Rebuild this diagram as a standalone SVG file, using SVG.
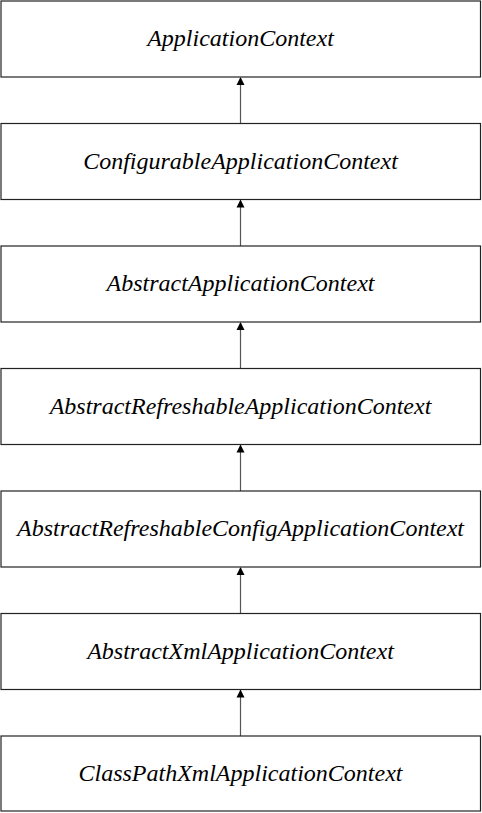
<svg xmlns="http://www.w3.org/2000/svg" width="482" height="813" viewBox="0 0 482 813">
<defs>
<style>
.box{fill:#fff;stroke:#222;stroke-width:1.2}
.lbl{font-family:"Liberation Serif","Times New Roman",serif;font-style:italic;font-size:24px;fill:#000;text-anchor:middle}
.edge{stroke:#555;stroke-width:1.2;fill:none}
</style>
<marker id="ah" markerWidth="8" markerHeight="10" refX="7" refY="5" orient="auto" markerUnits="userSpaceOnUse">
<path d="M0,1 L8,5 L0,9 Z" fill="#000"/>
</marker>
</defs>
<rect width="482" height="813" fill="#fff"/>
<g id="edges">
<line class="edge" x1="240.5" y1="124" x2="240.5" y2="78" marker-end="url(#ah)"/>
<line class="edge" x1="240.5" y1="246.5" x2="240.5" y2="200.5" marker-end="url(#ah)"/>
<line class="edge" x1="240.5" y1="369" x2="240.5" y2="323" marker-end="url(#ah)"/>
<line class="edge" x1="240.5" y1="491.5" x2="240.5" y2="445.5" marker-end="url(#ah)"/>
<line class="edge" x1="240.5" y1="614" x2="240.5" y2="568" marker-end="url(#ah)"/>
<line class="edge" x1="240.5" y1="736.5" x2="240.5" y2="690.5" marker-end="url(#ah)"/>
</g>
<g id="n1"><rect class="box" x="1" y="1" width="479.5" height="76"/><text class="lbl" x="240.5" y="46">ApplicationContext</text></g>
<g id="n2"><rect class="box" x="1" y="123.5" width="479.5" height="76"/><text class="lbl" x="240.5" y="168.5">ConfigurableApplicationContext</text></g>
<g id="n3"><rect class="box" x="1" y="246" width="479.5" height="76"/><text class="lbl" x="240.5" y="291">AbstractApplicationContext</text></g>
<g id="n4"><rect class="box" x="1" y="368.5" width="479.5" height="76"/><text class="lbl" x="240.5" y="413.5">AbstractRefreshableApplicationContext</text></g>
<g id="n5"><rect class="box" x="1" y="491" width="479.5" height="76"/><text class="lbl" x="240.5" y="536">AbstractRefreshableConfigApplicationContext</text></g>
<g id="n6"><rect class="box" x="1" y="613.5" width="479.5" height="76"/><text class="lbl" x="240.5" y="658.5">AbstractXmlApplicationContext</text></g>
<g id="n7"><rect class="box" x="1" y="736" width="479.5" height="75"/><text class="lbl" x="240.5" y="781">ClassPathXmlApplicationContext</text></g>
</svg>
